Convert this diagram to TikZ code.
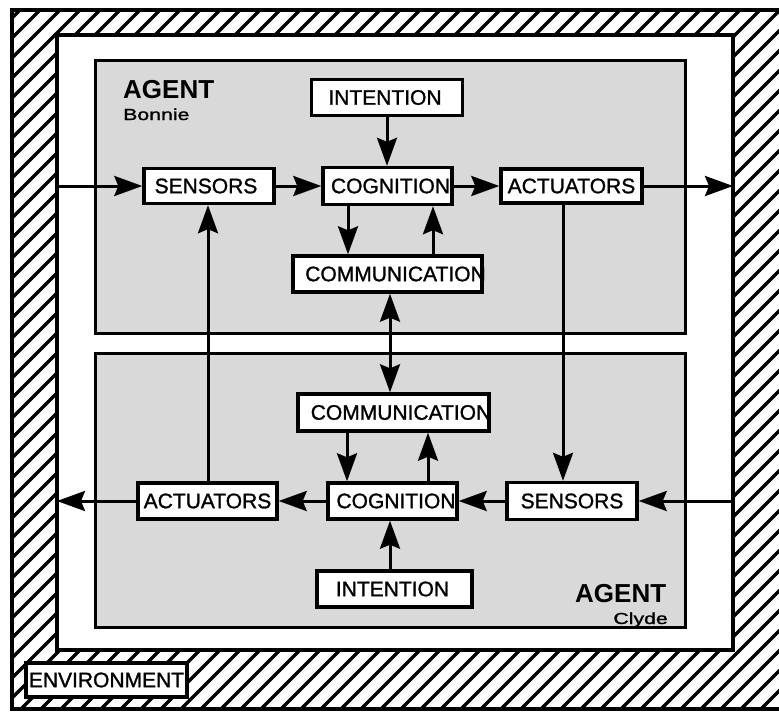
\documentclass[tikz,border=0pt]{standalone}
\usepackage{fontspec}
\setmainfont{Liberation Sans}
\newfontfamily\heavysans[FakeBold=1.2]{Liberation Sans}
\usepackage{graphicx}
\usetikzlibrary{arrows.meta}
\definecolor{agentfill}{gray}{0.85}
\newcommand{\agentfont}{\fontsize{26}{26}\selectfont\bfseries}
\newcommand{\namefont}{\heavysans\fontsize{16}{16}\selectfont}
\begin{document}
\begin{tikzpicture}[x=1pt,y=-1pt,
  unitbox/.style={draw, line width=3.4pt, fill=white, inner sep=0pt},
  lbl/.style={inner sep=0pt, font=\heavysans\fontsize{21}{21}\selectfont},
  agentlbl/.style={inner sep=0pt, font=\agentfont},
  namelbl/.style={inner sep=0pt, font=\namefont},
  flow/.style={line width=3pt, -{Stealth[length=28pt,width=20pt,inset=4pt]}},
  both/.style={line width=3pt, {Stealth[length=28pt,width=20pt,inset=4pt]}-{Stealth[length=28pt,width=20pt,inset=4pt]}},
  hatch/.style={line width=3.3pt},
  agentbox/.style={draw, line width=3pt, fill=agentfill},
]
\useasboundingbox (0,0) rectangle (779,713);
\fill[white] (0,0) rectangle (779,713);

% hatched environment band
\begin{scope}
  \clip (12,10) rectangle (779,709);
  \foreach \i in {-760,-740,...,800} \draw[hatch] (\i,730) -- ++(740,-740);
\end{scope}
\draw[line width=3.5pt] (779,10) -- (12,10) -- (12,709) -- (779,709);

% inner world area
\draw[line width=3.5pt, fill=white] (57,35) rectangle (733,650);

% the two agents
\draw[agentbox] (95,60) rectangle (685,333);
\draw[agentbox] (95,353) rectangle (685,627);

% agent titles and names
\node[agentlbl, anchor=base west] (agentA) at (123,98) {AGENT};
\node[namelbl, anchor=base west] (nameA) at (123,120) {\scalebox{1.33}[1]{Bonnie}};
\node[agentlbl, anchor=base west] (agentB) at (575,602) {AGENT};
\node[namelbl, anchor=base east] (nameB) at (668,624) {\scalebox{1.33}[1]{Clyde}};

% environment tag
\node[unitbox, minimum width=161pt, minimum height=34pt] (env) at (106.5,680) {};
\node[lbl] (env-t) at (env) {ENVIRONMENT};

% agent Bonnie
\node[unitbox, minimum width=151pt, minimum height=36pt] (int1) at (387,97.5) {};
\node[unitbox, minimum width=130pt, minimum height=35pt] (sen1) at (209,186) {};
\node[unitbox, minimum width=129pt, minimum height=37pt] (cog1) at (387.5,186) {};
\node[unitbox, minimum width=141pt, minimum height=34pt] (act1) at (571.5,186) {};
\node[unitbox, minimum width=189pt, minimum height=36pt] (com1) at (387.5,274) {};

\node[lbl] (int1-t) at ([xshift=-2pt]int1.center) {INTENTION};
\node[lbl] (sen1-t) at ([xshift=-3pt]sen1.center) {SENSORS};
\node[lbl] (cog1-t) at ([xshift=3pt]cog1.center) {COGNITION};
\node[lbl] (act1-t) at (act1.center) {ACTUATORS};
\node[lbl] (com1-t) at ([xshift=8pt]com1.center) {COMMUNICATION};

% agent Clyde
\node[unitbox, minimum width=191pt, minimum height=37pt] (com2) at (393.5,412.5) {};
\node[unitbox, minimum width=129pt, minimum height=36pt] (cog2) at (392.5,501) {};
\node[unitbox, minimum width=130pt, minimum height=37pt] (sen2) at (572,501) {};
\node[unitbox, minimum width=139pt, minimum height=36pt] (act2) at (207.5,501) {};
\node[unitbox, minimum width=155pt, minimum height=36pt] (int2) at (394.5,589) {};

\node[lbl] (com2-t) at ([xshift=7.5pt]com2.center) {COMMUNICATION};
\node[lbl] (cog2-t) at ([xshift=3.5pt]cog2.center) {COGNITION};
\node[lbl] (sen2-t) at (sen2.center) {SENSORS};
\node[lbl] (act2-t) at (act2.center) {ACTUATORS};
\node[lbl] (int2-t) at ([xshift=-2pt]int2.center) {INTENTION};

% entry and exit points on the world boundary
\coordinate (inA) at (57,186);
\coordinate (outA) at (733,186);
\coordinate (inB) at (733,501);
\coordinate (outB) at (57,501);

% Bonnie's flow
\draw[flow] (inA) -- (sen1.west);
\draw[flow] (sen1.east) -- (cog1.west);
\draw[flow] (int1.south) -- ([xshift=-0.5pt]cog1.north);
\draw[flow] (cog1.east) -- (act1.west);
\draw[flow] (act1.east) -- (outA);
\draw[flow] ([xshift=-39.5pt]cog1.south) -- ([xshift=-39.5pt]com1.north);
\draw[flow] ([xshift=45.5pt]com1.north) -- ([xshift=45.5pt]cog1.south);

% link between the agents
\draw[both] ([xshift=2.5pt]com1.south) -- ([xshift=-3.5pt]com2.north);
\draw[flow] ([xshift=-8.5pt]act1.south) -- ([xshift=-9pt]sen2.north);
\draw[flow] ([xshift=0.5pt]act2.north) -- ([xshift=-1pt]sen1.south);

% Clyde's flow
\draw[flow] (inB) -- (sen2.east);
\draw[flow] (sen2.west) -- (cog2.east);
\draw[flow] (cog2.west) -- (act2.east);
\draw[flow] (act2.west) -- (outB);
\draw[flow] ([xshift=-4.5pt]int2.north) -- ([xshift=-2.5pt]cog2.south);
\draw[flow] ([xshift=-46.5pt]com2.south) -- ([xshift=-45.5pt]cog2.north);
\draw[flow] ([xshift=35.5pt]cog2.north) -- ([xshift=34.5pt]com2.south);
\end{tikzpicture}
\end{document}
